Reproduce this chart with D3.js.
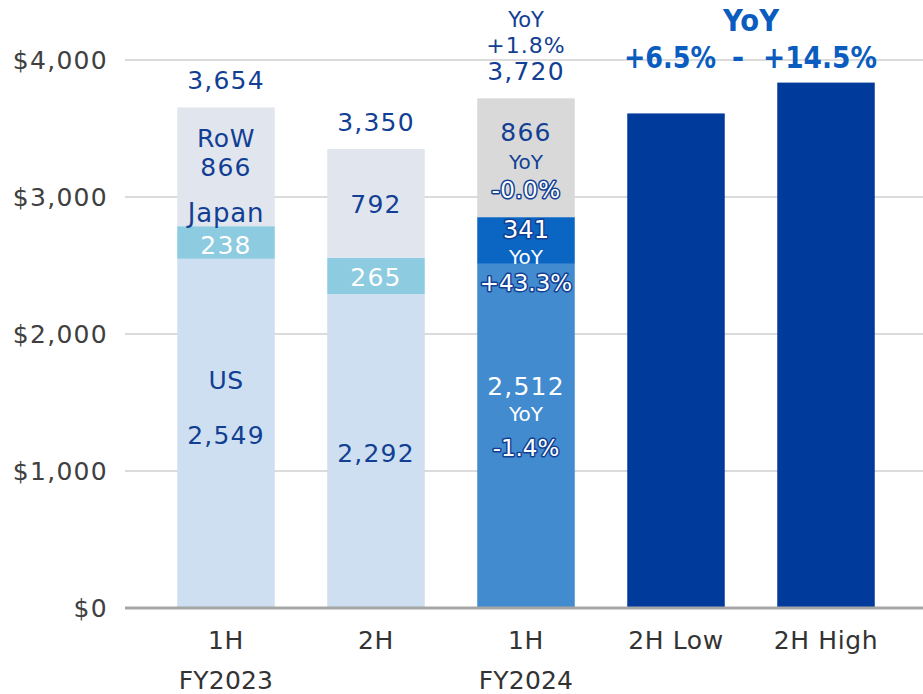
<!DOCTYPE html>
<html>
<head>
<meta charset="utf-8">
<script src="https://cdn.jsdelivr.net/npm/d3@7/dist/d3.min.js"></script>
<style>
  html, body { margin: 0; padding: 0; background: #fff; }
  svg { display: block; }
  text { font-family: "DejaVu Sans", Verdana, sans-serif; }
</style>
</head>
<body>
<svg id="chart" width="923" height="694"></svg>
<script>
// ---- data ----
const categories = ["1H FY2023", "2H FY2023", "1H FY2024", "2H Low", "2H High"];
const catLine1 = ["1H", "2H", "1H", "2H Low", "2H High"];
const catLine2 = ["FY2023", "", "FY2024", "", ""];
const usValues = [2549, 2292, 2512];
const japanValues = [238, 265, 341];
const rowValues = [866, 792, 866];
const totals = [3654, 3350, 3720];
const forecastValues = [3610, 3835];
const yTicks = [0, 1000, 2000, 3000, 4000];
const yoyTotal1H = "+1.8%";
const yoyRow = "-0.0%";
const yoyJapan = "+43.3%";
const yoyUS = "-1.4%";
const yoyForecastLow = "+6.5%";
const yoyForecastHigh = "+14.5%";

// ---- setup ----
const svg = d3.select("#chart");
const W = 923, H = 694;
const x = d3.scaleBand().domain(categories).range([151, 901]).paddingInner(0.35).paddingOuter(0.175);
const y = d3.scaleLinear().domain([0, 4000]).range([608, 60]);

const dark = "#123f93";
const colors2023 = { us: "#cddff0", japan: "#8ccbe0", row: "#e1e6ee" };
const colors2024 = { us: "#428bcf", japan: "#0a66c2", row: "#d9d9d9" };
const forecastColor = "#003a9b";

// gridlines
svg.append("g").selectAll("line").data(yTicks.filter(d => d > 0)).join("line")
  .attr("x1", 125).attr("x2", W).attr("y1", d => y(d)).attr("y2", d => y(d))
  .attr("stroke", "#cfcfcf").attr("stroke-width", 1.5);

// y tick labels
svg.append("g").selectAll("text").data(yTicks).join("text")
  .attr("x", 108).attr("y", d => y(d) + 9).attr("text-anchor", "end")
  .attr("font-size", 25).attr("fill", "#404040").attr("letter-spacing", 1.3)
  .text(d => "$" + d3.format(",")(d));

// stacked bars
const stacks = categories.slice(0, 3).map((c, i) => {
  const cols = i < 2 ? colors2023 : colors2024;
  const us = usValues[i], jp = japanValues[i];
  return [
    { c, y0: 0, y1: us, color: cols.us },
    { c, y0: us, y1: us + jp, color: cols.japan },
    { c, y0: us + jp, y1: totals[i], color: cols.row }
  ];
}).flat();

svg.append("g").selectAll("rect").data(stacks).join("rect")
  .attr("x", d => x(d.c)).attr("width", x.bandwidth())
  .attr("y", d => y(d.y1)).attr("height", d => y(d.y0) - y(d.y1))
  .attr("fill", d => d.color);

// forecast bars
svg.append("g").selectAll("rect").data(forecastValues).join("rect")
  .attr("x", (d, i) => x(categories[3 + i])).attr("width", x.bandwidth())
  .attr("y", d => y(d)).attr("height", d => y(0) - y(d))
  .attr("fill", forecastColor);

// baseline
svg.append("line").attr("x1", 125).attr("x2", W).attr("y1", y(0)).attr("y2", y(0))
  .attr("stroke", "#a6a6a6").attr("stroke-width", 3);

// category labels
const cx = c => x(c) + x.bandwidth() / 2;
svg.append("g").selectAll("text").data(categories).join("text")
  .attr("x", d => cx(d)).attr("y", 649).attr("text-anchor", "middle")
  .attr("font-size", 25).attr("fill", "#333").attr("letter-spacing", 0.6)
  .text((d, i) => catLine1[i]);
svg.append("g").selectAll("text").data(categories).join("text")
  .attr("x", d => cx(d)).attr("y", 689).attr("text-anchor", "middle")
  .attr("font-size", 25).attr("fill", "#333").attr("letter-spacing", 0.2)
  .text((d, i) => catLine2[i]);

// label helper
function label(c, yy, txt, opts = {}) {
  const t = svg.append("text")
    .attr("x", cx(c)).attr("y", yy).attr("text-anchor", "middle")
    .attr("font-size", opts.size || 25)
    .attr("fill", opts.fill || dark)
    .attr("font-weight", opts.weight || "normal")
    .attr("letter-spacing", opts.ls != null ? opts.ls : 1.2)
    .text(txt);
  if (opts.outline) {
    t.attr("stroke", opts.outline).attr("stroke-width", 3)
     .attr("stroke-linejoin", "round").attr("paint-order", "stroke");
  }
  return t;
}
const fmt = d3.format(",");

// Bar 1: 1H FY2023
const c0 = categories[0];
label(c0, y(totals[0]) - 18, fmt(totals[0]));
label(c0, y(totals[0]) + 40, "RoW", { ls: 0.5 });
label(c0, y(totals[0]) + 69, fmt(rowValues[0]));
label(c0, y(usValues[0] + japanValues[0]) - 4, "Japan", { ls: 0.8, size: 26 });
label(c0, y(usValues[0]) - 5, fmt(japanValues[0]), { fill: "#fff" });
label(c0, y(2000) + 55, "US", { ls: 0.5 });
label(c0, y(2000) + 110, fmt(usValues[0]));

// Bar 2: 2H FY2023
const c1 = categories[1];
label(c1, y(totals[1]) - 18, fmt(totals[1]));
label(c1, y(totals[1]) + 64, fmt(rowValues[1]));
label(c1, y(usValues[1]) - 8, fmt(japanValues[1]), { fill: "#fff" });
label(c1, y(2000) + 128, fmt(usValues[1]));

// Bar 3: 1H FY2024
const c2 = categories[2];
label(c2, y(totals[2]) - 71, "YoY", { size: 21, ls: 0 });
label(c2, y(totals[2]) - 45, yoyTotal1H, { size: 22, ls: 1 });
label(c2, y(totals[2]) - 18, fmt(totals[2]));
label(c2, y(totals[2]) + 43, fmt(rowValues[2]));
label(c2, y(totals[2]) + 71, "YoY", { size: 20, ls: 0 });
label(c2, y(totals[2]) + 100, yoyRow, { fill: "#fff", outline: dark, size: 23, ls: 0.5 });
label(c2, y(usValues[2] + japanValues[2]) + 21, fmt(japanValues[2]), { fill: "#fff", outline: dark, size: 24, ls: 0 });
label(c2, y(usValues[2] + japanValues[2]) + 47, "YoY", { fill: "#fff", size: 20, ls: 0 });
label(c2, y(usValues[2] + japanValues[2]) + 74, yoyJapan, { fill: "#fff", outline: dark, size: 23, ls: 0 });
label(c2, y(2000) + 61, fmt(usValues[2]), { fill: "#fff" });
label(c2, y(2000) + 87, "YoY", { fill: "#fff", size: 20, ls: 0 });
label(c2, y(2000) + 122, yoyUS, { fill: "#fff", outline: dark, size: 23, ls: 0 });

// forecast YoY header
const hdrColor = "#0b5cbf";
const lowCx = cx(categories[3]), highCx = cx(categories[4]);
const fx = (lowCx + highCx) / 2;
svg.append("text").attr("x", fx).attr("y", 31).attr("text-anchor", "middle")
  .attr("font-size", 30).attr("font-weight", "bold").attr("fill", hdrColor)
  .attr("textLength", 56).attr("lengthAdjust", "spacingAndGlyphs")
  .text("YoY");
svg.append("text").attr("x", lowCx - 6).attr("y", 68).attr("text-anchor", "middle")
  .attr("font-size", 30).attr("font-weight", "bold").attr("fill", hdrColor)
  .attr("textLength", 92).attr("lengthAdjust", "spacingAndGlyphs")
  .text(yoyForecastLow);
svg.append("text").attr("x", fx - 13).attr("y", 68).attr("text-anchor", "middle")
  .attr("font-size", 30).attr("font-weight", "bold").attr("fill", hdrColor)
  .text("-");
svg.append("text").attr("x", highCx - 6).attr("y", 68).attr("text-anchor", "middle")
  .attr("font-size", 30).attr("font-weight", "bold").attr("fill", hdrColor)
  .attr("textLength", 114).attr("lengthAdjust", "spacingAndGlyphs")
  .text(yoyForecastHigh);
</script>
</body>
</html>
